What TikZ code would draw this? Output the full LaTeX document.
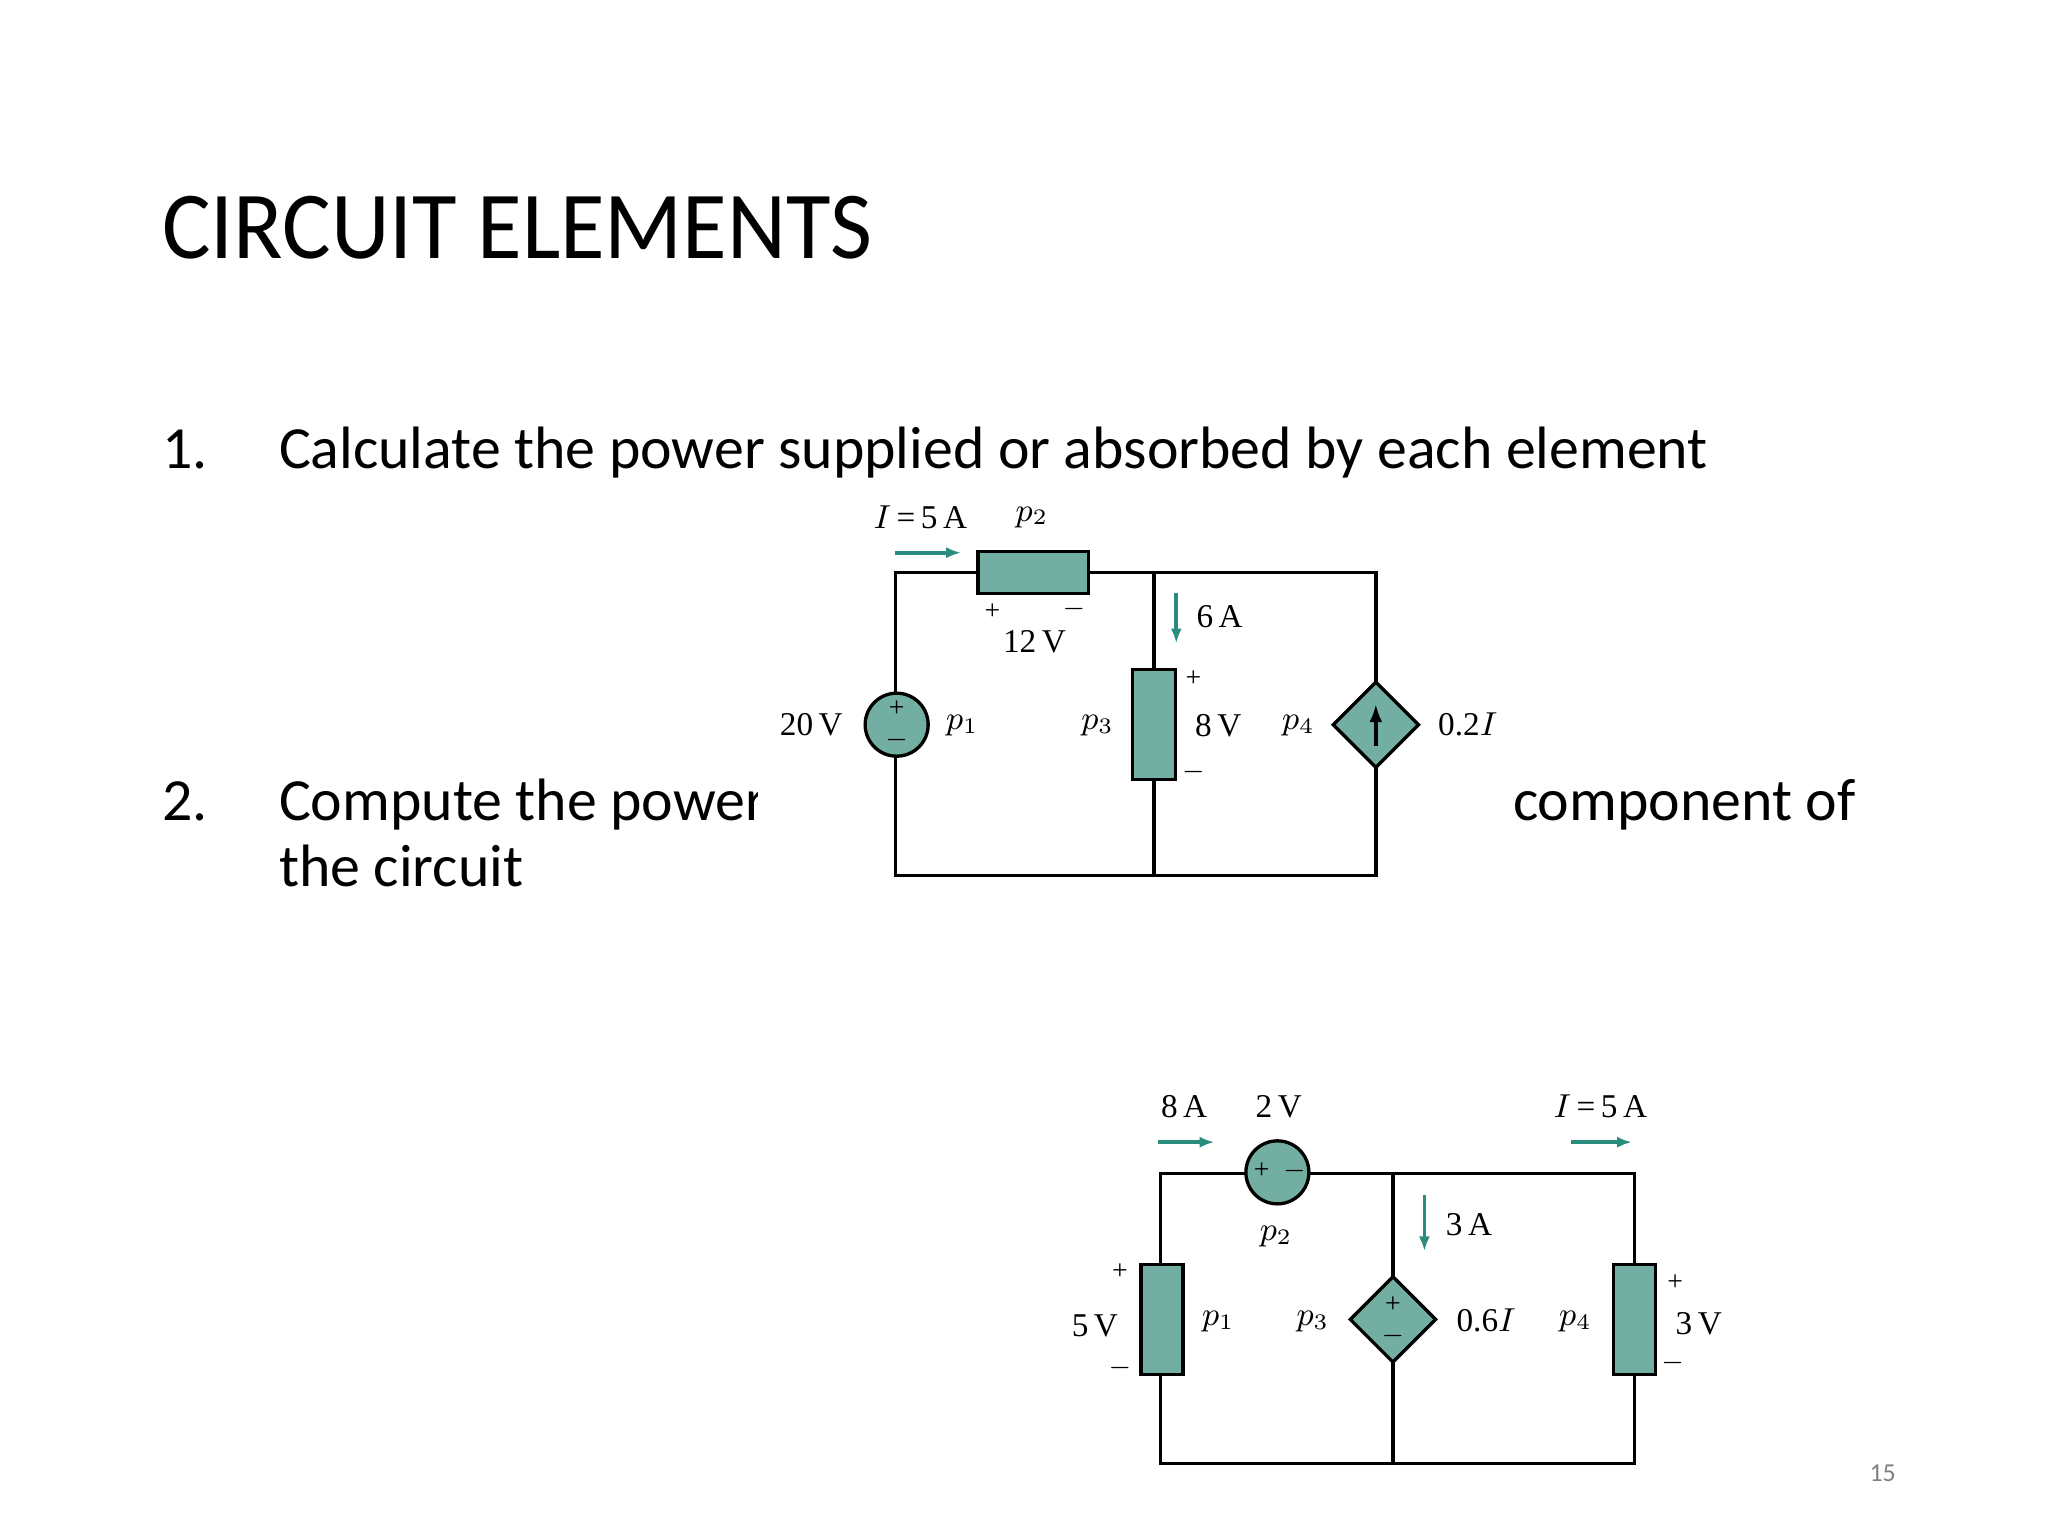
\documentclass[tikz,border=0pt]{standalone}
\usepackage{fontspec}
\setmainfont{Carlito}
\newfontfamily\ckt{Liberation Serif}
\usetikzlibrary{shapes.geometric,arrows.meta}
\definecolor{tealfill}{HTML}{72AFA2}
\definecolor{tealarr}{HTML}{2A8C7C}
\tikzset{
 wire/.style={line width=0.9pt},
 res/.style={draw,fill=tealfill,line width=0.9pt,minimum width=#1,inner sep=0},
 src/.style={circle,draw,fill=tealfill,line width=0.9pt,minimum size=48*0.0125cm,inner sep=0},
 dsrc/.style={diamond,draw,fill=tealfill,line width=0.9pt,minimum size=66*0.0125cm,inner sep=0},
 lab/.style={font=\ckt\fontsize{9}{9}\selectfont,inner sep=1pt},
 sm/.style={font=\ckt\fontsize{7.5}{7.5}\selectfont,inner sep=0.5pt},
 carr/.style={-{Latex[length=4pt,width=3pt]},tealarr,line width=1pt},
 body/.style={font=\fontsize{16.2}{19}\selectfont,anchor=base west,inner sep=0},
}
\begin{document}
\begin{tikzpicture}[x=0.0125cm,y=-0.0125cm]
\useasboundingbox (0,0) rectangle (1560,1170);
\node[anchor=base west,inner sep=0,font=\fontsize{26}{30}\selectfont,xscale=0.95] (title) at (123,197) {CIRCUIT ELEMENTS};
\node[body] (n1) at (123,357) {1.};
\node[body] (t1) at (212,357) {Calculate the power supplied or absorbed by each element};
\node[body] (n2) at (123,625) {2.};
\node[body] (t2) at (212,625) {Compute the power};
\node[body] (t2b) at (1152,625) {component of};
\node[body] (t2c) at (212,675) {the circuit};
\fill[white] (577,380) rectangle (1148,690);
% circuit 1
\coordinate (a1) at (682,436); \coordinate (a2) at (879,436); \coordinate (a3) at (1048,436);
\coordinate (b1) at (682,667); \coordinate (b2) at (879,667); \coordinate (b3) at (1048,667);
\draw[wire] (a1)--(a3)--(b3)--(b1)--cycle (a2)--(b2);
\node[res=84*0.0125cm,minimum height=32*0.0125cm] (R2) at (787,436) {};
\node[src] (V1) at (683,552) {};
\node[sm] at (683,540) {+}; \node[sm] at (683,564) {$-$};
\node[res=33*0.0125cm,minimum height=84*0.0125cm] (R3) at (879,552) {};
\node[dsrc] (D1) at (1048,552) {};
\draw[-{Latex[length=5pt,width=3.5pt]},line width=1.2pt] (1048,568)--(1048,536);
\node[lab] at (701,394) {$I$\,=\,5\,A};
\node[lab] at (786,394) {$p_2$};
\draw[carr] (682,421)--(732,421);
\node[sm] at (756,466) {+}; \node[sm] at (818,464) {$-$};
\node[lab] at (788,489) {12\,V};
\draw[carr] (896,452)--(896,490);
\node[lab] at (929,470) {6\,A};
\node[sm] at (909,517) {+}; \node[sm] at (909,588) {$-$};
\node[lab] at (928,553) {8\,V};
\node[lab] at (618,552) {20\,V};
\node[lab] at (733,553) {$p_1$};
\node[lab] at (836,553) {$p_3$};
\node[lab] at (989,553) {$p_4$};
\node[lab] at (1118,552) {0.2$I$};
% circuit 2
\coordinate (c1) at (884,894); \coordinate (c2) at (1061,894); \coordinate (c3) at (1245,894);
\coordinate (d1) at (884,1115); \coordinate (d2) at (1061,1115); \coordinate (d3) at (1245,1115);
\draw[wire] (c1)--(c3)--(d3)--(d1)--cycle (c2)--(d2);
\node[src] (V2) at (973,893) {};
\node[sm] at (961,892) {+}; \node[sm] at (986,892) {$-$};
\node[res=32*0.0125cm,minimum height=84*0.0125cm] (R1) at (885,1005) {};
\node[dsrc] (D2) at (1061,1005) {};
\node[sm] at (1061,994) {+}; \node[sm] at (1061,1018) {$-$};
\node[res=32*0.0125cm,minimum height=84*0.0125cm] (R4) at (1245,1005) {};
\node[lab] at (902,843) {8\,A};
\node[lab] at (974,843) {2\,V};
\draw[carr] (882,870)--(925,870);
\node[lab] at (1219,843) {$I$\,=\,5\,A};
\draw[carr] (1197,870)--(1243,870);
\draw[carr] (1085,910)--(1085,953);
\node[lab] at (1119,933) {3\,A};
\node[lab] at (972,942) {$p_2$};
\node[sm] at (853,969) {+}; \node[sm] at (853,1042) {$-$};
\node[lab] at (834,1010) {5\,V};
\node[lab] at (928,1007) {$p_1$};
\node[lab] at (1000,1007) {$p_3$};
\node[lab] at (1132,1006) {0.6$I$};
\node[lab] at (1200,1007) {$p_4$};
\node[sm] at (1276,977) {+}; \node[sm] at (1274,1038) {$-$};
\node[lab] at (1294,1008) {3\,V};
\node[font=\fontsize{7}{8}\selectfont,text=gray] (pg) at (1434,1122) {15};
\end{tikzpicture}
\end{document}
